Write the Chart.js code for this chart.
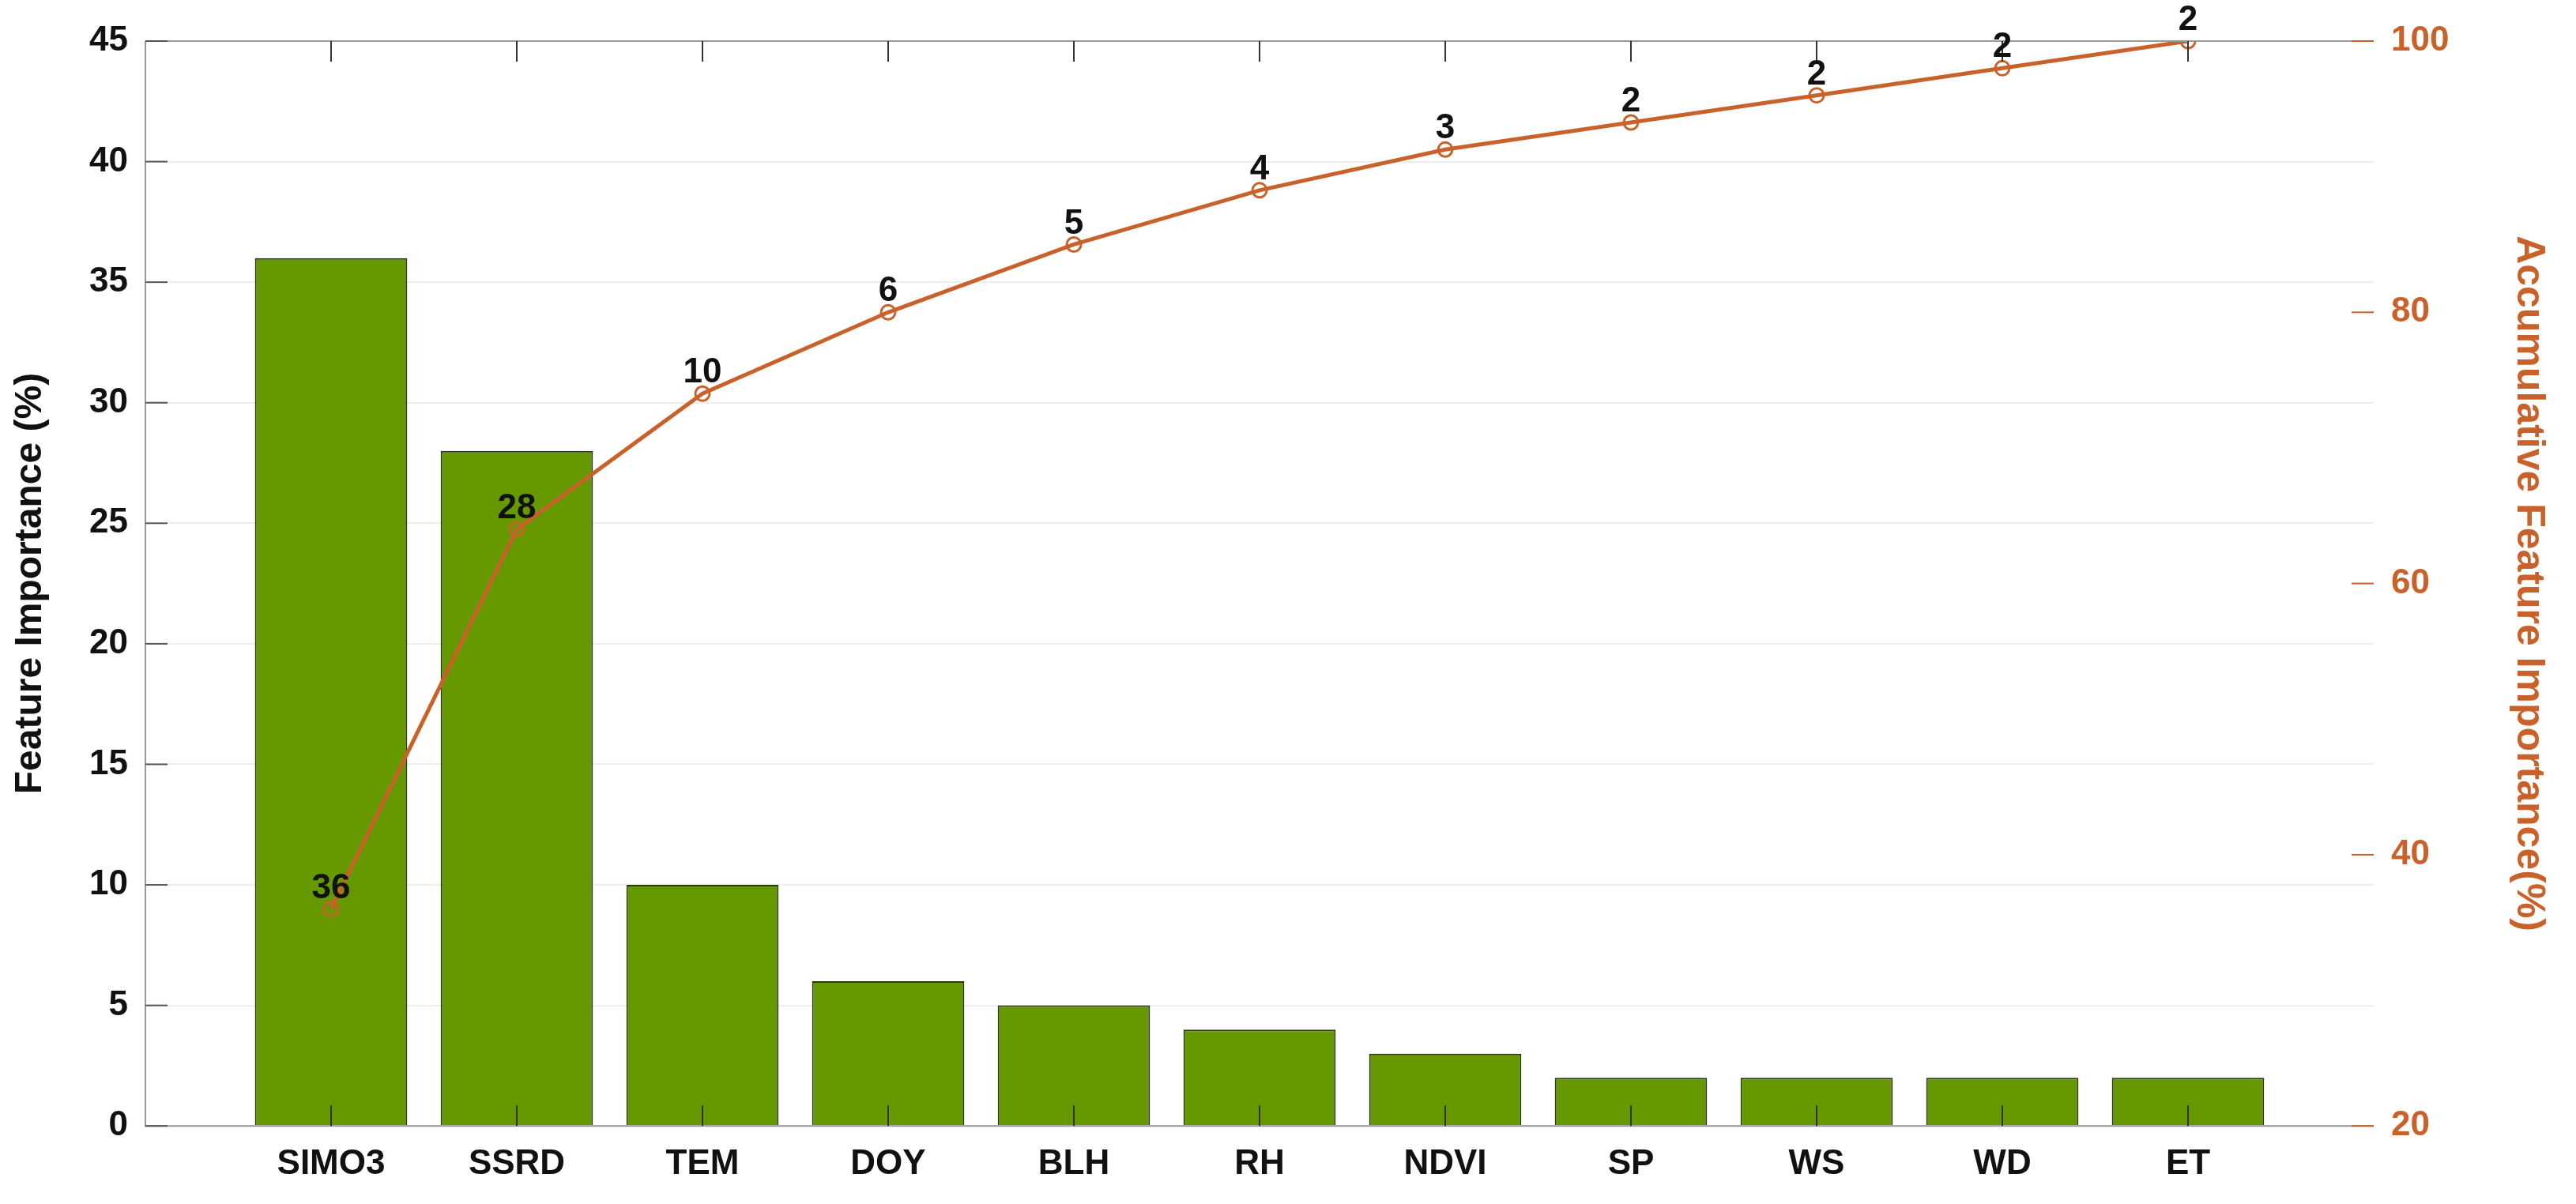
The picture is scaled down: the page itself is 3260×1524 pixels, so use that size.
<!DOCTYPE html>
<html><head><meta charset="utf-8">
<script src="https://cdn.jsdelivr.net/npm/chart.js@4/dist/chart.umd.min.js"></script>
<style>html,body{margin:0;background:#fff}#w{width:3260px;height:1524px}</style>
</head><body><div id="w"><canvas id="c"></canvas></div>
<script>
const categories = ['', 'SIMO3', 'SSRD', 'TEM', 'DOY', 'BLH', 'RH', 'NDVI', 'SP', 'WS', 'WD', 'ET', ''];
const importance = [null, 36, 28, 10, 6, 5, 4, 3, 2, 2, 2, 2, null];
const accumulative = [null, 36, 64, 74, 80, 85, 89, 92, 94, 96, 98, 100, null];
const leftTicks = [0, 5, 10, 15, 20, 25, 30, 35, 40, 45];
const rightTicks = [20, 40, 60, 80, 100];
const ORANGE = '#C8622A', GREEN = '#669900';
const F = 'Liberation Sans, Arial, sans-serif';

const extras = {
  id: 'extras',
  afterDatasetsDraw(chart) {
    const ctx = chart.ctx, a = chart.chartArea;
    const y = chart.scales.y, y2 = chart.scales.y2, x = chart.scales.x;
    ctx.save();
    // frame
    ctx.strokeStyle = '#999'; ctx.lineWidth = 2;
    ctx.beginPath(); ctx.moveTo(a.left, a.top); ctx.lineTo(a.right, a.top); ctx.stroke();
    ctx.beginPath(); ctx.moveTo(a.left, a.top); ctx.lineTo(a.left, a.bottom); ctx.lineTo(a.right, a.bottom); ctx.stroke();
    // left ticks
    ctx.strokeStyle = '#555';
    leftTicks.forEach(v => { const p = y.getPixelForValue(v); ctx.beginPath(); ctx.moveTo(a.left, p); ctx.lineTo(a.left + 28, p); ctx.stroke(); });
    ctx.strokeStyle = ORANGE;
    rightTicks.forEach(v => { const p = y2.getPixelForValue(v); ctx.beginPath(); ctx.moveTo(a.right, p); ctx.lineTo(a.right - 28, p); ctx.stroke(); });
    // x ticks
    ctx.strokeStyle = '#333';
    for (let i = 1; i <= 11; i++) { const p = x.getPixelForValue(i); ctx.beginPath(); ctx.moveTo(p, a.bottom); ctx.lineTo(p, a.bottom - 26); ctx.stroke(); ctx.beginPath(); ctx.moveTo(p, a.top); ctx.lineTo(p, a.top + 26); ctx.stroke(); }
    // labels
    ctx.fillStyle = '#111'; ctx.font = 'bold 44px ' + F; ctx.textAlign = 'center'; ctx.textBaseline = 'bottom';
    chart.getDatasetMeta(0).data.forEach((b, i) => { if (importance[i] != null) ctx.fillText(String(importance[i]), b.x, b.y - 4); });
    ctx.restore();
  }
};

new Chart(document.getElementById('c'), {
  data: {
    labels: categories,
    datasets: [
      { type: 'line', data: accumulative, yAxisID: 'y2', borderColor: ORANGE, borderWidth: 5, pointRadius: 9, pointBorderWidth: 3, pointBackgroundColor: 'rgba(0,0,0,0)', pointBorderColor: ORANGE, order: 0 },
      { type: 'bar', data: importance, yAxisID: 'y', backgroundColor: GREEN, borderColor: '#2a3a10', borderWidth: 2, barPercentage: 0.82, categoryPercentage: 1, order: 1 }
    ]
  },
  options: {
    responsive: true, maintainAspectRatio: false, animation: false,
    layout: { padding: { top: 52, right: 30, bottom: 10, left: 10 } },
    plugins: { legend: { display: false }, tooltip: { enabled: false } },
    scales: {
      x: { offset: false, grid: { display: false }, border: { display: false },
           ticks: { color: '#111', font: { family: F, size: 44, weight: 'bold' }, padding: 14, autoSkip: false, maxRotation: 0 } },
      y: { position: 'left', min: 0, max: 45, afterFit(s) { s.width = 174; },
           ticks: { stepSize: 5, color: '#111', font: { family: F, size: 44, weight: 'bold' }, padding: 22 },
           grid: { color: '#eeeeee', lineWidth: 2, drawTicks: false }, border: { display: false },
           title: { display: true, text: 'Feature Importance (%)', color: '#111', font: { family: F, size: 48, weight: 'bold' }, padding: 0 } },
      y2: { position: 'right', min: 20, max: 100, afterFit(s) { s.width = 226; },
           ticks: { stepSize: 20, color: ORANGE, font: { family: F, size: 44, weight: 'bold' }, padding: 22 },
           grid: { display: false, drawTicks: false }, border: { display: false },
           title: { display: true, text: 'Accumulative Feature Importance(%)', color: ORANGE, font: { family: F, size: 50, weight: 'bold' }, padding: 0 } }
    }
  },
  plugins: [extras]
});
</script></body></html>
